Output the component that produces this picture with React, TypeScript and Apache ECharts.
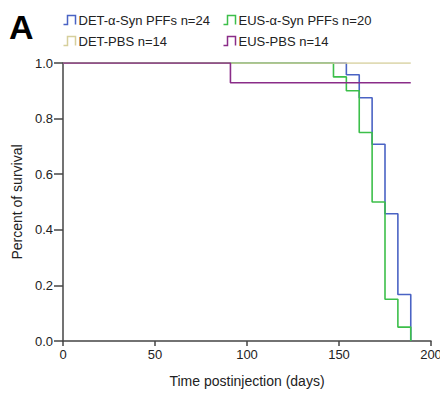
import React, { useEffect, useRef } from "react";
import * as echarts from "echarts";

const seriesNames = [
  "DET-α-Syn PFFs n=24",
  "EUS-α-Syn PFFs n=20",
  "DET-PBS n=14",
  "EUS-PBS n=14",
];
const seriesColors = ["#4a63c4", "#3cbf4a", "#d6cf9c", "#8a2c88"];

// Kaplan-Meier steps: [day, survival fraction]
const detSyn: [number, number][] = [
  [0, 1], [154, 0.958], [161, 0.875], [168, 0.708], [175, 0.458], [182, 0.167], [189, 0],
];
const eusSyn: [number, number][] = [
  [0, 1], [147, 0.95], [154, 0.9], [161, 0.75], [168, 0.5], [175, 0.15], [182, 0.05], [189, 0],
];
const detPbs: [number, number][] = [
  [0, 1], [189, 1],
];
const eusPbs: [number, number][] = [
  [0, 1], [91, 0.929], [189, 0.929],
];
const seriesData = [detSyn, eusSyn, detPbs, eusPbs];

const xTicks = [0, 50, 100, 150, 200];
const yTicks = [0, 0.2, 0.4, 0.6, 0.8, 1.0];

const FONT = "Liberation Sans, Arial, sans-serif";
const ICON = "path://M0,9 L4,9 L4,0 L12,0 L12,9";

export default function App() {
  const ref = useRef<HTMLDivElement>(null);
  useEffect(() => {
    if (!ref.current) return;
    const chart = echarts.init(ref.current, undefined, { renderer: "svg" });
    const legendItem = (i: number) => ({
      name: seriesNames[i],
      icon: ICON,
      itemStyle: { color: "none", borderColor: seriesColors[i], borderWidth: 1.5 },
    });
    const legendCommon = {
      orient: "vertical" as const,
      top: 13,
      itemWidth: 14,
      itemHeight: 9,
      itemGap: 7,
      padding: 0,
      textStyle: { fontFamily: FONT, fontSize: 13, color: "#222", padding: [0, 0, 0, -3] },
      selectedMode: false,
    };
    chart.setOption({
      animation: false,
      textStyle: { fontFamily: FONT },
      graphic: [
        {
          type: "text",
          left: 9,
          top: 10,
          style: { text: "A", font: `bold 34px ${FONT}`, fill: "#000" },
        },
      ],
      legend: [
        { ...legendCommon, left: 61, data: [legendItem(0), legendItem(2)] },
        { ...legendCommon, left: 221, data: [legendItem(1), legendItem(3)] },
      ],
      grid: { left: 63, right: 17, top: 63, bottom: 56, containLabel: false },
      xAxis: {
        type: "value",
        min: xTicks[0],
        max: xTicks[xTicks.length - 1],
        interval: 50,
        name: "Time postinjection (days)",
        nameLocation: "middle",
        nameGap: 33,
        nameTextStyle: { fontFamily: FONT, fontSize: 14, color: "#222" },
        axisLine: { show: true, lineStyle: { color: "#444", width: 1.5 } },
        axisTick: { show: true, inside: false, length: 5, lineStyle: { color: "#444", width: 1.5 } },
        axisLabel: { fontFamily: FONT, fontSize: 13, color: "#222", margin: 7 },
        splitLine: { show: false },
      },
      yAxis: {
        type: "value",
        min: yTicks[0],
        max: yTicks[yTicks.length - 1],
        interval: 0.2,
        name: "Percent of survival",
        nameLocation: "middle",
        nameGap: 37,
        nameTextStyle: { fontFamily: FONT, fontSize: 14, color: "#222" },
        axisLine: { show: true, lineStyle: { color: "#444", width: 1.5 } },
        axisTick: { show: true, inside: false, length: 9, lineStyle: { color: "#444", width: 1.5 } },
        axisLabel: {
          fontFamily: FONT,
          fontSize: 13,
          color: "#222",
          margin: 10,
          formatter: (v: number) => v.toFixed(1),
        },
        splitLine: { show: false },
      },
      series: seriesData.map((d, i) => ({
        name: seriesNames[i],
        type: "line",
        step: "end",
        data: d,
        symbol: "none",
        z: 2 + i,
        lineStyle: { color: seriesColors[i], width: 1.6 },
        itemStyle: { color: seriesColors[i] },
      })),
    });
    return () => chart.dispose();
  }, []);
  return <div ref={ref} style={{ width: 448, height: 397, margin: -8 }} />;
}
